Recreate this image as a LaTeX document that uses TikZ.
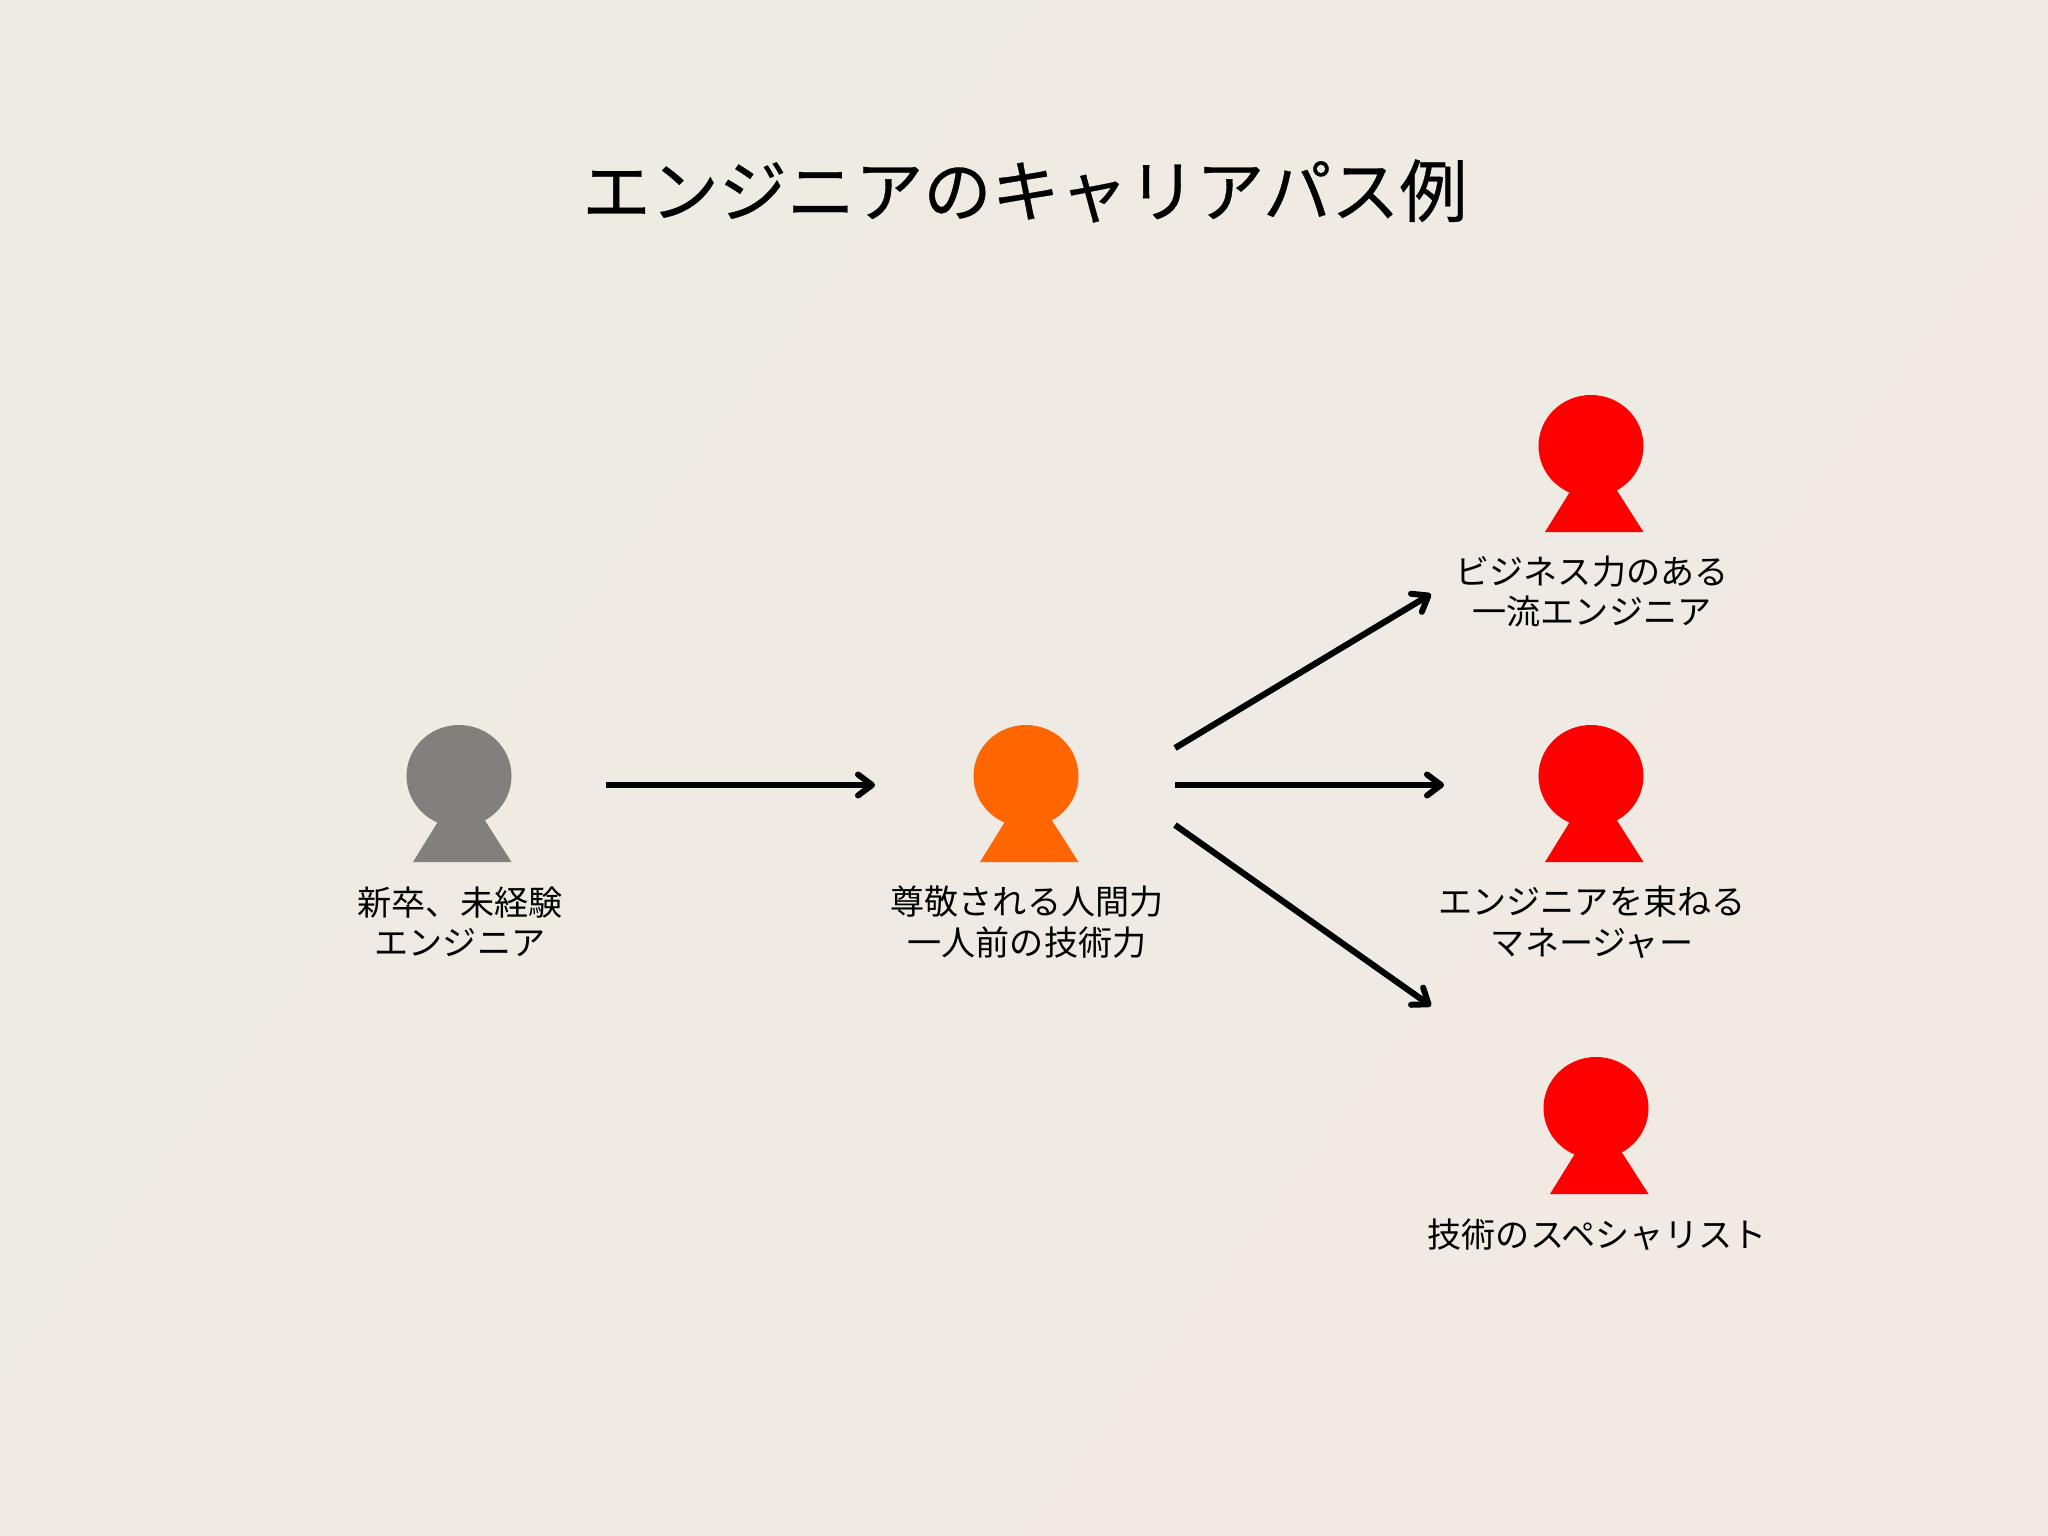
\documentclass[tikz,border=0pt]{standalone}
\usepackage{fontspec}
\setmainfont{Noto Sans CJK JP}
\newfontfamily\titlefont[FakeBold=0.5]{Noto Sans CJK JP}
\usetikzlibrary{arrows.meta,shapes.geometric}
\definecolor{bgleft}{HTML}{EEEBE3}
\definecolor{bgright}{HTML}{F0EAE3}
\definecolor{pgray}{HTML}{81807C}
\definecolor{porange}{HTML}{FF6600}
\definecolor{pred}{HTML}{FF0000}
\tikzset{
  x=1pt,y=-1pt,
  headshape/.style={ellipse,minimum width=105pt,minimum height=102pt,inner sep=0pt,outer sep=0pt,draw=none},
  personlabel/.style={align=center,font=\fontsize{34.1}{40.5}\selectfont,inner sep=0pt,text=black},
  titletext/.style={font=\titlefont\fontsize{68.2}{70}\selectfont,inner sep=0pt,text=black},
  flow/.style={line width=6.2pt,draw=black,-{Straight Barb[length=14pt,width=21pt,line width=6pt,round]}}
}
\newcommand{\personfig}[4]{% name, x, y, colour
  \node[headshape,fill=#4] (#1) at (#2,#3) {};
  \fill[#4] (#2-20,#3+44) -- (#2+25,#3+43) -- (#2+52.5,#3+86) -- (#2-46,#3+86) -- cycle;
}
\begin{document}
\begin{tikzpicture}
\useasboundingbox (0,0) rectangle (2048,1536);
\shade[left color=bgleft,right color=bgright,shading angle=53] (0,0) rectangle (2048,1536);
\node[titletext] (title) at (1025,191) {エンジニアのキャリアパス例};
\personfig{newgrad}{459}{776}{pgray}
\personfig{solid}{1026}{776}{porange}
\personfig{biz}{1591}{446}{pred}
\personfig{mgr}{1591}{776}{pred}
\personfig{spec}{1596}{1108}{pred}
\node[personlabel] (lnewgrad) at (460,922) {新卒、未経験\\エンジニア};
\node[personlabel] (lsolid) at (1027,922) {尊敬される人間力\\一人前の技術力};
\node[personlabel] (lbiz) at (1592,591.5) {ビジネス力のある\\一流エンジニア};
\node[personlabel] (lmgr) at (1592,922) {エンジニアを束ねる\\マネージャー};
\node[personlabel] (lspec) at (1597,1234.5) {技術のスペシャリスト};
\coordinate (a1s) at (606,785);
\coordinate (a1e) at (875,785);
\coordinate (a2s) at (1175,748);
\coordinate (a2e) at (1431,594);
\coordinate (a3s) at (1175,785);
\coordinate (a3e) at (1444,785);
\coordinate (a4s) at (1175,825);
\coordinate (a4e) at (1431,1006);
\draw[flow] (a1s) -- (a1e);
\draw[flow] (a2s) -- (a2e);
\draw[flow] (a3s) -- (a3e);
\draw[flow] (a4s) -- (a4e);
\end{tikzpicture}
\end{document}
